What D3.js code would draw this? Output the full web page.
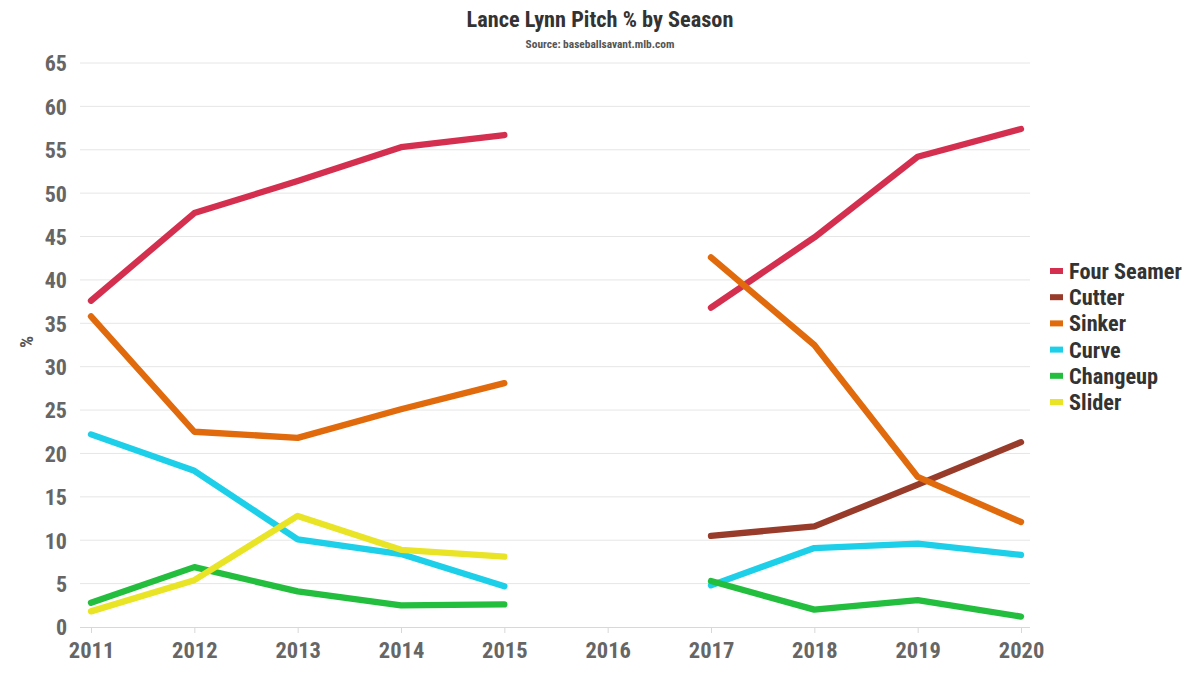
<!DOCTYPE html>
<html><head><meta charset="utf-8">
<script src="https://cdn.jsdelivr.net/npm/d3@7"></script>
<style>
html,body{margin:0;padding:0;background:#fff;}
svg text{font-family:"Roboto Condensed","Liberation Sans Narrow","DejaVu Sans Condensed",Roboto,sans-serif;font-weight:bold;}
</style></head>
<body><svg id="c" width="1200" height="675"></svg>
<script>
const years = [2011,2012,2013,2014,2015,2016,2017,2018,2019,2020];
const yTicks = [0,5,10,15,20,25,30,35,40,45,50,55,60,65];
const seriesNames = ["Four Seamer","Cutter","Sinker","Curve","Changeup","Slider"];
const colors = ["#d42f4f","#993b2b","#e06a0c","#1dcfe8","#23be3d","#e9e425"];
const fourSeamer = [37.6,47.7,51.4,55.3,56.7,null,36.8,44.9,54.2,57.4];
const cutter     = [null,null,null,null,null,null,10.5,11.6,16.4,21.3];
const sinker     = [35.8,22.5,21.8,25.1,28.1,null,42.6,32.5,17.3,12.1];
const curve      = [22.2,18.0,10.1,8.4,4.7,null,4.8,9.1,9.6,8.3];
const changeup   = [2.8,6.9,4.1,2.5,2.6,null,5.3,2.0,3.1,1.2];
const slider     = [1.8,5.4,12.8,8.9,8.1,null,null,null,null,null];
const seriesValues = [fourSeamer,cutter,sinker,curve,changeup,slider];

const svg = d3.select("#c");
const x = d3.scalePoint().domain(years).range([91,1021]);
const y = d3.scaleLinear().domain([0,65]).range([627,63]);

svg.append("text").attr("x",600).attr("y",27).attr("text-anchor","middle")
  .attr("font-size",22.3).attr("fill","#333").text("Lance Lynn Pitch % by Season");
svg.append("text").attr("x",600).attr("y",48).attr("text-anchor","middle")
  .attr("font-size",11.4).attr("fill","#555").text("Source: baseballsavant.mlb.com");

// grid
svg.append("g").selectAll("line").data(yTicks.filter(d=>d>0)).join("line")
  .attr("x1",80).attr("x2",1030).attr("y1",d=>y(d)).attr("y2",d=>y(d))
  .attr("stroke","#e6e6e6").attr("stroke-width",1);

// y axis labels
const ya = svg.append("g").attr("transform","translate(67,0)")
  .call(d3.axisLeft(y).tickValues(yTicks).tickSize(0).tickPadding(0));
ya.select(".domain").remove();
ya.selectAll("text").attr("font-size",22).attr("fill","#666").attr("dy","0.36em")
  .style("font-family",null);

// x axis
const xa = svg.append("g").attr("transform","translate(0,627)")
  .call(d3.axisBottom(x).tickSize(6).tickPadding(6).tickFormat(d3.format("d")));
xa.select(".domain").attr("d","M80,0.5H1030").attr("stroke","#d8d8d8");
xa.selectAll(".tick line").attr("stroke","#d8d8d8");
xa.selectAll("text").attr("font-size",22.5).attr("fill","#666").attr("dy","0.85em")
  .style("font-family",null);

svg.append("text").attr("transform","translate(33,342) rotate(-90)")
  .attr("text-anchor","middle").attr("font-size",19).attr("fill","#555").text("%");

const line = d3.line().defined(d=>d.v!=null).x(d=>x(d.yr)).y(d=>y(d.v));
seriesNames.forEach((n,i)=>{
  svg.append("path").datum(years.map((yr,j)=>({yr,v:seriesValues[i][j]})))
    .attr("d",line).attr("fill","none").attr("stroke",colors[i])
    .attr("stroke-width",6.3).attr("stroke-linecap","round").attr("stroke-linejoin","round");
});

// legend
const lg = svg.append("g").attr("transform","translate(1050,271)");
seriesNames.forEach((n,i)=>{
  const g = lg.append("g").attr("transform",`translate(0,${i*26.2})`);
  g.append("rect").attr("x",0).attr("y",-3).attr("width",13).attr("height",6).attr("fill",colors[i]);
  g.append("text").attr("x",19).attr("y",0).attr("dy","0.36em").attr("font-size",22.3)
    .attr("fill","#333").text(n);
});
</script></body></html>
